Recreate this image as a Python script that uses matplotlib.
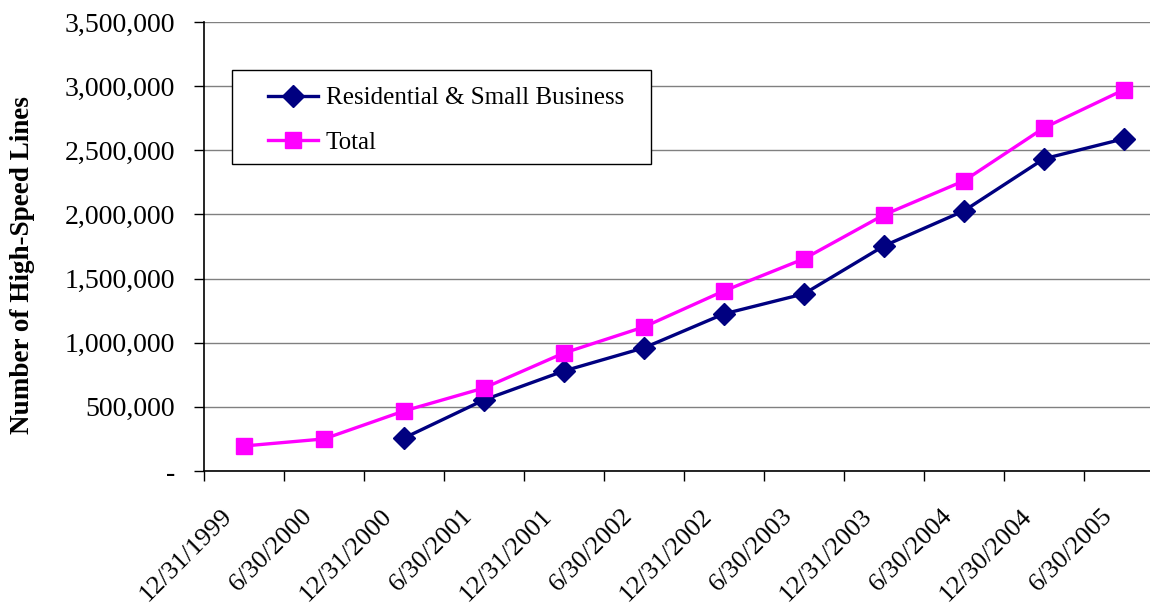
import matplotlib.pyplot as plt
from matplotlib.patches import Rectangle
from matplotlib.ticker import FuncFormatter, MultipleLocator, FixedLocator, NullFormatter

plt.rcParams["font.family"] = ["Liberation Serif", "DejaVu Serif"]

periods = ["12/31/1999", "6/30/2000", "12/31/2000", "6/30/2001", "12/31/2001",
           "6/30/2002", "12/31/2002", "6/30/2003", "12/31/2003", "6/30/2004",
           "12/30/2004", "6/30/2005"]
residential = [None, None, 257000, 554000, 780000, 960000, 1225000, 1381000,
               1755000, 2028000, 2434000, 2590000]
total = [195000, 250000, 468000, 647000, 920000, 1123000, 1404000, 1654000,
         1997000, 2262000, 2675000, 2972000]


def fmt(v, pos):
    if v == 0:
        return "-"
    return f"{v:,.0f}"


def main() -> None:
    W, H = 1150, 604
    fig = plt.figure(figsize=(W / 100, H / 100), dpi=100)
    ax = fig.add_axes([204 / W, 133 / H, 960 / W, 449 / H])

    x = list(range(len(periods)))
    rx = [i for i, v in zip(x, residential) if v is not None]
    ry = [v for v in residential if v is not None]

    ax.plot(rx, ry, color="#000080", lw=2.4, marker="D", ms=11,
            label="Residential & Small Business", clip_on=False)
    ax.plot(x, total, color="#FF00FF", lw=2.4, marker="s", ms=12,
            label="Total", clip_on=False)

    ax.set_xlim(-0.5, len(periods) - 0.5)
    ax.set_ylim(0, 3500000)
    ax.yaxis.set_major_locator(MultipleLocator(500000))
    ax.yaxis.set_major_formatter(FuncFormatter(fmt))
    ax.yaxis.grid(True, color="#808080", lw=1)
    ax.set_axisbelow(True)

    # category labels sit under each point, boundary ticks between categories
    ax.set_xticks(x)
    ax.xaxis.set_major_formatter(NullFormatter())
    ax.xaxis.set_minor_locator(FixedLocator([i - 0.5 for i in range(len(periods) + 1)]))
    ax.tick_params(axis="x", which="major", length=0)
    ax.tick_params(axis="x", which="minor", length=7, width=1, direction="out")
    ax.tick_params(axis="y", length=7, width=1, direction="out", labelsize=20, pad=14)
    for i, lab in zip(x, periods):
        ax.annotate(lab, xy=(i, 0), xycoords=("data", "axes fraction"),
                    xytext=(-11, -30), textcoords="offset points",
                    rotation=45, ha="right", va="center", rotation_mode="anchor",
                    fontsize=19, annotation_clip=False)

    for side in ("top", "right"):
        ax.spines[side].set_visible(False)
    for side in ("left", "bottom"):
        ax.spines[side].set_linewidth(1.2)

    ax.set_ylabel("Number of High-Speed Lines", fontsize=19.5, fontweight="bold")
    ax.yaxis.set_label_coords((35 - 204) / 960, (471 - 265) / 449)

    # legend box drawn separately so the inner margins match
    ax.add_patch(Rectangle((232 / W, 1 - 164 / H), (651 - 232) / W, (164 - 70) / H,
                           transform=fig.transFigure, facecolor="white",
                           edgecolor="black", lw=1.0, zorder=4))
    leg = ax.legend(loc="upper left", bbox_to_anchor=(268 / W, 1 - 87 / H),
                    bbox_transform=fig.transFigure, fontsize=18, frameon=False,
                    borderpad=0, borderaxespad=0, handlelength=2.0,
                    handletextpad=0.3, labelspacing=0.88)
    leg.set_zorder(5)

    fig.savefig("out.png", dpi=100)


if __name__ == "__main__":
    main()
